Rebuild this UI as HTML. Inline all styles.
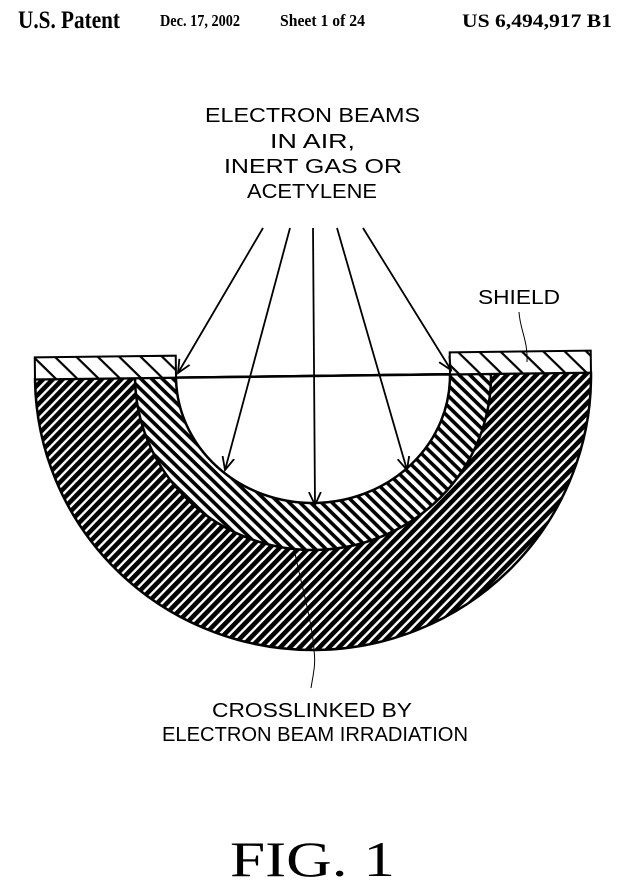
<!DOCTYPE html>
<html><head><meta charset="utf-8"><style>
html,body{margin:0;padding:0;background:#fff;}
svg{display:block;}
</style></head><body>
<svg width="625" height="893" viewBox="0 0 625 893" xmlns="http://www.w3.org/2000/svg">
<defs>
<pattern id="pOut" patternUnits="userSpaceOnUse" width="7" height="7" patternTransform="rotate(-45)">
<rect width="7" height="7" fill="#fff"/><rect width="7" height="4.6" fill="#000"/>
</pattern>
<pattern id="pIn" patternUnits="userSpaceOnUse" width="7.5" height="7.5" patternTransform="rotate(45)">
<rect width="7.5" height="7.5" fill="#fff"/><rect width="7.5" height="3.6" fill="#000"/>
</pattern>
<pattern id="pSh" patternUnits="userSpaceOnUse" width="15" height="15" patternTransform="rotate(45)">
<rect width="15" height="15" fill="#fff"/><rect width="15" height="2.2" fill="#000"/>
</pattern>
<marker id="ah" markerWidth="16" markerHeight="16" refX="13" refY="7" orient="auto" markerUnits="userSpaceOnUse">
<path d="M0,1 L13,7 L0,13" fill="none" stroke="#000" stroke-width="1.8"/>
</marker>
</defs>

<g font-family="Liberation Serif, serif" font-weight="bold" fill="#000">
<text x="18" y="28" font-size="25" textLength="102" lengthAdjust="spacingAndGlyphs">U.S. Patent</text>
<text x="160" y="26" font-size="17" textLength="80" lengthAdjust="spacingAndGlyphs">Dec. 17, 2002</text>
<text x="280" y="26" font-size="17" textLength="85" lengthAdjust="spacingAndGlyphs">Sheet 1 of 24</text>
<text x="462" y="27" font-size="19" textLength="150" lengthAdjust="spacingAndGlyphs">US 6,494,917 B1</text>
</g>

<g font-family="Liberation Sans, sans-serif" font-size="20" fill="#000" lengthAdjust="spacingAndGlyphs">
<text x="205" y="122" textLength="215" lengthAdjust="spacingAndGlyphs">ELECTRON BEAMS</text>
<text x="270" y="148" textLength="85" lengthAdjust="spacingAndGlyphs">IN AIR,</text>
<text x="224" y="173" textLength="178" lengthAdjust="spacingAndGlyphs">INERT GAS OR</text>
<text x="247" y="198" textLength="130" lengthAdjust="spacingAndGlyphs">ACETYLENE</text>
<text x="478" y="304" textLength="82" lengthAdjust="spacingAndGlyphs">SHIELD</text>
<text x="212" y="717" textLength="200" lengthAdjust="spacingAndGlyphs">CROSSLINKED BY</text>
<text x="162" y="741" textLength="306" lengthAdjust="spacingAndGlyphs">ELECTRON BEAM IRRADIATION</text>
</g>

<text x="230" y="876" font-family="Liberation Serif, serif" font-size="50" textLength="165" lengthAdjust="spacingAndGlyphs">FIG. 1</text>

<g transform="rotate(-0.7 313 376)">
<path d="M35,376 A278,274 0 0 0 591,376 Z" fill="url(#pOut)" stroke="#000" stroke-width="2.5"/>
<path d="M135,376 A178,174 0 0 0 491,376 Z" fill="url(#pIn)" stroke="#000" stroke-width="2.5"/>
<path d="M176,376 A137,127 0 0 0 450,376 Z" fill="#fff" stroke="#000" stroke-width="2.5"/>
<line x1="176" y1="376" x2="450" y2="376" stroke="#000" stroke-width="1.5"/>
<rect x="35" y="354" width="141" height="22" fill="url(#pSh)" stroke="#000" stroke-width="2"/>
<rect x="450" y="354" width="141" height="22" fill="url(#pSh)" stroke="#000" stroke-width="2"/>
</g>

<g stroke="#000" stroke-width="1.8" fill="none">
<line x1="263" y1="228" x2="178" y2="373" marker-end="url(#ah)"/>
<line x1="290" y1="228" x2="225" y2="470" marker-end="url(#ah)"/>
<line x1="313" y1="228" x2="315" y2="505" marker-end="url(#ah)"/>
<line x1="337" y1="228" x2="407" y2="470" marker-end="url(#ah)"/>
<line x1="363" y1="228" x2="451" y2="370" marker-end="url(#ah)"/>
<path d="M519,312 C520,330 528,340 527,362" stroke-width="1"/>
<path d="M295,553 C300,580 312,620 314,650 C316,665 313,675 311,688" stroke-width="1"/>
</g>
</svg>
</body></html>
